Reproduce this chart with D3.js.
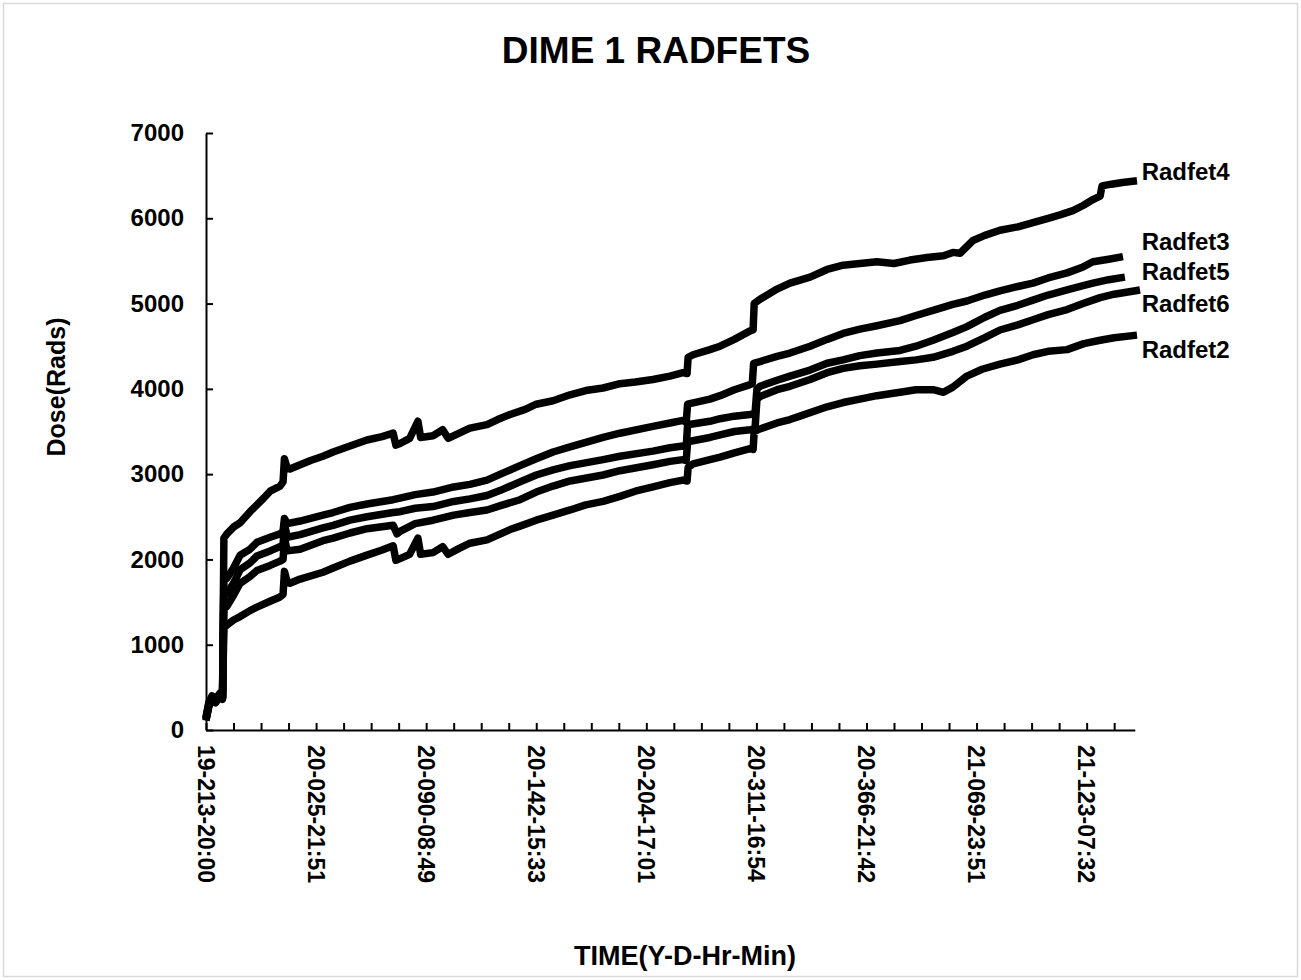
<!DOCTYPE html>
<html lang="en">
<head>
<meta charset="UTF-8">
<title>DIME 1 RADFETS</title>
<script src="https://cdnjs.cloudflare.com/ajax/libs/d3/7.8.5/d3.min.js"></script>
<style>
  body { margin: 0; background: #fff; }
  svg text { font-family: "Liberation Sans", Arial, sans-serif; font-weight: bold; fill: #000; }
</style>
</head>
<body>
<svg id="chart" width="1301" height="980"></svg>
<script>
// time position is in axis-tick units (one minor tick = 1), dose in rads
const timeLabels = ["19-213-20:00", "20-025-21:51", "20-090-08:49", "20-142-15:33", "20-204-17:01",
                    "20-311-16:54", "20-366-21:42", "21-069-23:51", "21-123-07:32"];
const doseTicks = [0, 1000, 2000, 3000, 4000, 5000, 6000, 7000];
const seriesNames = ["Radfet4", "Radfet3", "Radfet5", "Radfet6", "Radfet2"];
const labelDose = [6448, 5627, 5275, 4900, 4361];

const radfet4 = [[0,150],[0.1,320],[0.22,400],[0.35,360],[0.5,430],[0.6,380],[0.65,2250],[0.76,2300],[1.0,2380],[1.24,2430],
  [1.6,2560],[1.85,2640],[2.1,2720],[2.33,2800],[2.69,2860],[2.8,2910],[2.85,3180],[2.95,3070],[3.05,3060],[3.42,3110],
  [3.8,3160],[4.25,3210],[4.62,3260],[5.23,3330],[5.85,3400],[6.4,3440],[6.8,3480],[6.9,3340],[7.05,3360],[7.4,3420],
  [7.7,3620],[7.8,3430],[8.25,3450],[8.6,3520],[8.8,3420],[9.2,3480],[9.59,3540],[10.21,3580],[10.6,3640],[11.05,3700],
  [11.6,3760],[12.0,3820],[12.61,3860],[13.23,3930],[13.8,3980],[14.43,4010],[15.04,4060],[15.6,4080],[16.24,4110],
  [16.86,4150],[17.33,4190],[17.48,4180],[17.52,4370],[17.7,4400],[18.31,4460],[18.68,4500],[19.2,4580],[19.77,4680],
  [19.88,4690],[19.92,5000],[20.13,5050],[20.75,5170],[21.22,5240],[21.95,5310],[22.57,5400],[23.15,5450],[23.76,5470],
  [24.38,5490],[25.0,5470],[25.58,5510],[26.2,5540],[26.8,5560],[27.14,5600],[27.4,5590],[27.87,5740],[28.3,5800],
  [28.85,5860],[29.5,5900],[30.05,5950],[30.6,6000],[31.03,6040],[31.5,6090],[31.87,6150],[32.23,6220],[32.49,6260],
  [32.56,6380],[32.9,6400],[33.3,6420],[33.83,6440]];

const radfet3 = [[0,140],[0.1,300],[0.22,390],[0.35,350],[0.5,420],[0.6,390],[0.65,1800],[0.76,1780],[1.0,1900],[1.24,2050],
  [1.6,2120],[1.85,2200],[2.33,2260],[2.69,2300],[2.8,2330],[2.85,2480],[2.95,2420],[3.42,2450],[4.25,2520],[4.62,2550],
  [5.23,2610],[5.85,2650],[6.8,2700],[7.05,2720],[7.6,2760],[8.25,2790],[9.0,2850],[9.59,2880],[10.21,2930],[10.7,3000],
  [11.41,3100],[12.0,3180],[12.61,3260],[13.23,3320],[14.43,3430],[15.04,3480],[16.24,3560],[16.86,3600],[17.33,3630],
  [17.45,3610],[17.5,3820],[18.31,3880],[18.68,3920],[19.2,3990],[19.77,4050],[19.85,4060],[19.9,4300],[20.13,4320],
  [20.75,4380],[21.22,4420],[21.95,4500],[22.57,4580],[23.15,4650],[23.76,4700],[24.38,4740],[25.22,4800],[25.8,4860],
  [26.42,4920],[27.14,4990],[27.65,5030],[28.3,5100],[28.85,5150],[29.5,5200],[30.05,5240],[30.6,5300],[31.29,5360],
  [31.87,5430],[32.23,5490],[32.8,5520],[33.32,5550]];

const radfet5 = [[0,130],[0.1,290],[0.22,370],[0.35,340],[0.5,410],[0.6,380],[0.65,1650],[0.76,1600],[1.0,1720],[1.24,1880],
  [1.6,1960],[1.85,2040],[2.33,2100],[2.69,2150],[2.8,2170],[2.85,2420],[2.95,2260],[3.42,2290],[4.25,2370],[4.62,2400],
  [5.23,2460],[5.85,2500],[6.8,2550],[7.05,2560],[7.6,2600],[8.25,2620],[9.0,2680],[9.59,2710],[10.21,2750],[10.7,2810],
  [11.41,2910],[12.0,2990],[12.61,3050],[13.23,3100],[14.43,3170],[15.04,3210],[16.24,3270],[16.86,3310],[17.33,3330],
  [17.45,3320],[17.5,3580],[18.31,3620],[18.68,3650],[19.2,3680],[19.77,3700],[19.95,3710],[20.02,4000],[20.13,4030],
  [20.75,4100],[21.22,4150],[21.95,4220],[22.57,4300],[23.15,4340],[23.76,4390],[24.38,4420],[25.22,4450],[25.8,4500],
  [26.42,4570],[27.14,4660],[27.65,4730],[28.3,4840],[28.85,4920],[29.5,4980],[30.05,5040],[30.6,5100],[31.29,5160],
  [31.87,5210],[32.23,5240],[32.8,5280],[33.39,5310]];

const radfet6 = [[0,110],[0.1,270],[0.22,350],[0.35,320],[0.5,400],[0.6,370],[0.65,1500],[0.76,1450],[1.0,1580],[1.24,1720],
  [1.6,1800],[1.85,1870],[2.33,1930],[2.69,1980],[2.8,2000],[2.85,2250],[2.95,2100],[3.42,2120],[4.25,2220],[4.62,2250],
  [5.23,2310],[5.85,2360],[6.8,2400],[6.94,2300],[7.05,2330],[7.6,2420],[8.25,2460],[9.0,2520],[9.59,2550],[10.21,2580],
  [10.7,2630],[11.41,2700],[12.0,2790],[12.61,2860],[13.23,2920],[14.43,2990],[15.04,3040],[16.24,3110],[16.86,3150],
  [17.33,3170],[17.45,3160],[17.5,3380],[18.31,3430],[18.68,3460],[19.2,3500],[19.77,3520],[19.95,3530],[20.02,3880],
  [20.13,3910],[20.75,3990],[21.22,4030],[21.95,4110],[22.57,4190],[23.15,4240],[23.76,4270],[24.38,4290],[25.22,4320],
  [25.8,4340],[26.42,4370],[27.14,4440],[27.65,4500],[28.3,4600],[28.85,4690],[29.5,4750],[30.05,4810],[30.6,4870],
  [31.29,4930],[31.87,5000],[32.49,5070],[33.0,5110],[33.94,5160]];

const radfet2 = [[0,120],[0.1,280],[0.22,360],[0.35,330],[0.5,400],[0.6,360],[0.65,1200],[0.76,1230],[1.0,1290],[1.24,1330],
  [1.6,1400],[1.85,1440],[2.33,1510],[2.69,1560],[2.8,1590],[2.85,1860],[2.95,1740],[3.05,1720],[3.42,1770],[4.25,1850],
  [4.62,1900],[5.23,1980],[5.85,2050],[6.4,2110],[6.8,2160],[6.9,1990],[7.05,2010],[7.4,2060],[7.7,2250],[7.8,2060],
  [8.25,2080],[8.6,2150],[8.8,2060],[9.2,2130],[9.59,2190],[10.21,2230],[11.05,2350],[11.41,2390],[12.0,2460],[12.61,2520],
  [13.23,2580],[13.8,2640],[14.43,2680],[15.04,2740],[15.6,2800],[16.24,2850],[16.86,2900],[17.33,2930],[17.48,2920],
  [17.52,3080],[17.7,3120],[18.31,3170],[18.68,3200],[19.2,3250],[19.77,3300],[19.88,3290],[19.92,3500],[20.13,3530],
  [20.75,3600],[21.22,3640],[21.58,3680],[22.57,3790],[23.15,3840],[23.76,3880],[24.38,3920],[25.22,3960],[25.8,3990],
  [26.42,3990],[26.8,3960],[27.14,4020],[27.65,4150],[28.2,4230],[28.85,4290],[29.5,4340],[30.05,4400],[30.6,4440],
  [31.29,4460],[31.9,4530],[32.49,4570],[33.0,4600],[33.83,4630]];

const allSeries = [radfet4, radfet3, radfet5, radfet6, radfet2];

const svg = d3.select("#chart");

// outer chart border
svg.append("rect")
    .attr("x", 3.5).attr("y", 3.5)
    .attr("width", 1294).attr("height", 973)
    .attr("fill", "#fff")
    .attr("stroke", "#d9d9d9")
    .attr("stroke-width", 1.5);

const x = d3.scaleLinear().domain([0, 33.75]).range([206, 206 + 27.52 * 33.75]);
const y = d3.scaleLinear().domain([0, 7000]).range([730, 133]);

// lines (thick stroke stands in for the dense noise band)
const line = d3.line().x(d => x(d[0])).y(d => y(d[1]));
svg.append("g")
    .selectAll("path")
    .data(allSeries)
    .enter()
    .append("path")
    .attr("d", line)
    .attr("fill", "none")
    .attr("stroke", "#000")
    .attr("stroke-width", 7.5)
    .attr("stroke-linejoin", "round");

// y axis, ticks pointing inward
const yAxis = svg.append("g")
    .attr("transform", `translate(${x(0)},0)`)
    .call(d3.axisLeft(y).tickValues(doseTicks).tickFormat(d3.format("d"))
        .tickSize(-7).tickSizeOuter(0).tickPadding(22));
yAxis.selectAll("text").style("font-size", "24px");

// x axis, minor ticks every step, labels every 4th
const xAxis = svg.append("g")
    .attr("transform", `translate(0,${y(0)})`)
    .call(d3.axisBottom(x).tickValues(d3.range(0, 34)).tickSize(-7).tickSizeOuter(0).tickFormat(""));
xAxis.selectAll("text").remove();

[yAxis, xAxis].forEach(g => {
    g.selectAll("path, line").attr("stroke", "#000").attr("stroke-width", 2);
});

svg.append("g")
    .selectAll("text")
    .data(timeLabels)
    .enter()
    .append("text")
    .attr("transform", (d, i) => `translate(${x(i * 4)},745) rotate(90)`)
    .attr("dy", "0.36em")
    .style("font-size", "23px")
    .text(d => d);

// titles
svg.append("text")
    .attr("x", 656).attr("y", 63)
    .attr("text-anchor", "middle")
    .style("font-size", "37px")
    .text("DIME 1 RADFETS");

svg.append("text")
    .attr("x", 685).attr("y", 965)
    .attr("text-anchor", "middle")
    .style("font-size", "27px")
    .text("TIME(Y-D-Hr-Min)");

svg.append("text")
    .attr("transform", "translate(65,387) rotate(-90)")
    .attr("text-anchor", "middle")
    .style("font-size", "25px")
    .text("Dose(Rads)");

// series labels at right end
svg.append("g")
    .selectAll("text")
    .data(seriesNames)
    .enter()
    .append("text")
    .attr("x", x(34.0))
    .attr("y", (d, i) => y(labelDose[i]))
    .style("font-size", "24px")
    .text(d => d);
</script>
</body>
</html>
